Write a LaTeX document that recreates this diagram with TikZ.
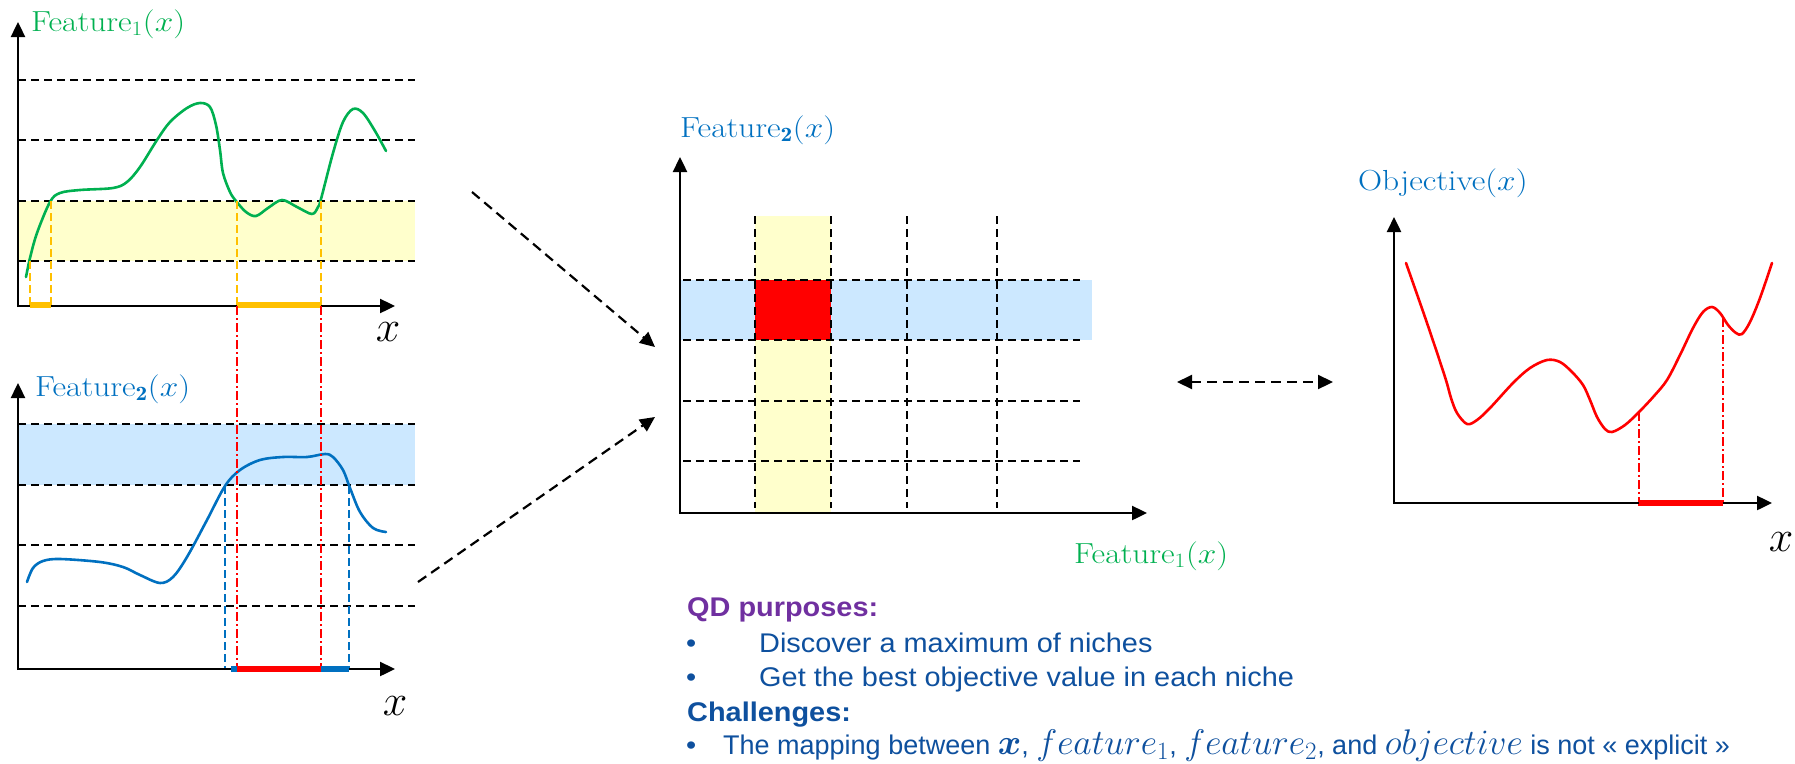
\RequirePackage{fix-cm}
\documentclass[tikz,border=0pt]{standalone}
\usepackage{amsmath}
\usepackage{graphicx}
\usepackage{fontspec}
\newfontfamily\textsans{Liberation Sans}
\usetikzlibrary{arrows.meta}

\definecolor{fgreen}{RGB}{0,176,80}
\definecolor{fblue}{RGB}{0,112,192}
\definecolor{bandblue}{RGB}{204,232,255}
\definecolor{bandyellow}{RGB}{255,255,204}
\definecolor{forange}{RGB}{255,192,0}
\definecolor{fred}{RGB}{255,0,0}
\definecolor{qdpurple}{RGB}{112,48,160}
\definecolor{txtblue}{RGB}{14,80,158}

% labels are set a little wider than the font draws them
\newcommand{\stretchlbl}[1]{\scalebox{1.15}[1]{#1}}
\newcommand{\stretchtxt}[1]{\scalebox{1.07}[1]{#1}}
% inline formulas in the sans-serif text, enlarged to sit with it
\newcommand{\mathwide}[1]{\scalebox{1.32}{$#1$}}

\tikzset{
  axis/.style={line width=2.4pt, -{Triangle[length=15pt,width=14pt]}},
  gridline/.style={line width=1.8pt, dash pattern=on 8pt off 5pt},
  curvestyle/.style={line width=2.6pt, line join=round, line cap=round},
  proj/.style={line width=2pt, dash pattern=on 8pt off 4pt},
  dashdot/.style={fred, line width=1.6pt, dash pattern=on 9pt off 3pt on 2pt off 3pt},
  seg/.style={line width=6pt},
  linkarrow/.style={line width=2.2pt, dash pattern=on 10pt off 6pt, -{Triangle[length=15pt,width=14pt]}},
  twoarrow/.style={line width=2.2pt, dash pattern=on 10pt off 6pt, {Triangle[length=15pt,width=14pt]}-{Triangle[length=15pt,width=14pt]}},
  lbl/.style={font=\fontsize{29}{34}\selectfont, inner sep=0pt, anchor=west},
  bigx/.style={font=\fontsize{44}{50}\selectfont, inner sep=0pt},
  txt/.style={font=\textsans\fontsize{27}{32}\selectfont, text=txtblue, inner sep=0pt, anchor=base west},
  txtbold/.style={txt, font=\textsans\bfseries\fontsize{27}{32}\selectfont},
}

\begin{document}
\begin{tikzpicture}[x=1pt,y=-1pt]
\useasboundingbox (0,0) rectangle (1795,763);

% ---------- top-left: feature 1 ----------
\fill[bandyellow] (18,201) rectangle (415,261);
\foreach \yy in {80,140,201,261}
  \draw[gridline] (18,\yy) -- (415,\yy);
\draw[fgreen, curvestyle] plot[smooth, tension=0.55] coordinates {
  (26,277) (30,258) (37,233) (50,202) (60,193) (80,190) (113,188) (127,182)
  (140,167) (157,140) (170,122) (187,108) (200,103) (210,107) (216,125)
  (220,150) (223,173) (230,192) (236,201) (246,212) (256,216) (268,208)
  (282,200) (297,207) (312,214) (318,207) (321,199) (333,153) (343,122)
  (353,109) (363,113) (375,131) (386,151)};
\draw[forange, proj] (30,261) -- (30,306);
\draw[forange, proj] (51,201) -- (51,306);
\draw[forange, proj] (237,201) -- (237,306);
\draw[forange, proj] (321,201) -- (321,306);
\draw[axis] (18,306) -- (395,306);
\draw[axis] (18,307) -- (18,22);
\draw[forange, seg] (30,305) -- (51,305);
\draw[forange, seg] (237,305) -- (321,305);
\node[lbl, text=fgreen] (f1lbl) at (31,24) {\stretchlbl{Feature$_1(x)$}};
\node[bigx] (x1) at (388,332) {$x$};

% ---------- bottom-left: feature 2 ----------
\fill[bandblue] (18,424) rectangle (415,485);
\foreach \yy in {424,485,545,606}
  \draw[gridline] (18,\yy) -- (415,\yy);
\draw[fblue, curvestyle] plot[smooth, tension=0.55] coordinates {
  (27,582) (33,568) (43,561) (60,559) (100,562) (123,567) (140,575)
  (160,583) (173,577) (187,557) (207,520) (225,486) (240,470) (260,460)
  (283,457) (307,457) (325,454) (333,457) (343,470) (350,488) (360,512)
  (373,528) (386,532)};
\draw[fblue, proj] (225,486) -- (225,669);
\draw[fblue, proj] (349,486) -- (349,669);
\draw[dashdot] (237,306) -- (237,669);
\draw[dashdot] (321,306) -- (321,669);
\draw[axis] (18,669) -- (395,669);
\draw[axis] (18,670) -- (18,383);
\draw[fblue, seg] (231,669) -- (349,669);
\draw[fred, seg] (237,669) -- (321,669);
\node[lbl, text=fblue] (f2lbl) at (35,389) {\stretchlbl{Feature$_{\mathbf{2}}(x)$}};
\node[bigx] (x2) at (395,706) {$x$};

% ---------- centre: the grid of niches ----------
\fill[bandyellow] (755,216) rectangle (831,513);
\fill[bandblue] (680,280) rectangle (1092,340);
\fill[fred] (755,280) rectangle (831,340);
\foreach \xx in {755,831,907,997}
  \draw[gridline] (\xx,216) -- (\xx,508);
\foreach \yy in {280,340,401,461}
  \draw[gridline] (683,\yy) -- (1080,\yy);
\draw[axis] (680,513) -- (1147,513);
\draw[axis] (680,514) -- (680,157);
\node[lbl, text=fblue] (g2lbl) at (680,130) {\stretchlbl{Feature$_{\mathbf{2}}(x)$}};
\node[lbl, text=fgreen] (g1lbl) at (1074,556) {\stretchlbl{Feature$_1(x)$}};

% ---------- right: objective ----------
\draw[fred, curvestyle] plot[smooth, tension=0.55] coordinates {
  (1406,263) (1427,323) (1445,377) (1451,398) (1457,413) (1467,424)
  (1477,420) (1490,408) (1513,383) (1530,368) (1547,360) (1560,362)
  (1572,372) (1583,385) (1590,400) (1597,417) (1605,429) (1612,432)
  (1625,425) (1639,412) (1654,396) (1667,380) (1680,355) (1693,328)
  (1703,312) (1712,307) (1720,313) (1728,325) (1736,333) (1742,334)
  (1750,322) (1760,298) (1772,263)};
\draw[dashdot] (1639,412) -- (1639,508);
\draw[dashdot] (1723,318) -- (1723,503);
\draw[axis] (1394,503) -- (1772,503);
\draw[axis] (1394,504) -- (1394,217);
\draw[fred, seg] (1639,503) -- (1723,503);
\node[lbl, text=fblue] (objlbl) at (1358,183) {\stretchlbl{Objective$(x)$}};
\node[bigx] (x3) at (1781,542) {$x$};

% ---------- links between panels ----------
\coordinate (a1s) at (472,192);
\coordinate (a1e) at (655,347);
\coordinate (a2s) at (418,582);
\coordinate (a2e) at (655,417);
\coordinate (d1) at (1177,382);
\coordinate (d2) at (1333,382);
\draw[linkarrow] (a1s) -- (a1e);
\draw[linkarrow] (a2s) -- (a2e);
\draw[twoarrow] (d1) -- (d2);

% ---------- text ----------
\node[txtbold, text=qdpurple] (qd) at (687,616) {\stretchtxt{QD purposes:}};
\node[txt] (b1) at (686,652) {\stretchtxt{•}};
\node[txt] (t1) at (759,652) {\stretchtxt{Discover a maximum of niches}};
\node[txt] (b2) at (686,686) {\stretchtxt{•}};
\node[txt] (t2) at (759,686) {\stretchtxt{Get the best objective value in each niche}};
\node[txtbold] (ch) at (687,721) {\stretchtxt{Challenges:}};
\node[txt] (b3) at (686,754) {\stretchtxt{•}};
\node[txt] (t3) at (723,754) {The mapping between \mathwide{\boldsymbol{x}}, \mathwide{feature_1}, \mathwide{feature_2}, and \mathwide{objective} is not « explicit »};
\end{tikzpicture}
\end{document}
